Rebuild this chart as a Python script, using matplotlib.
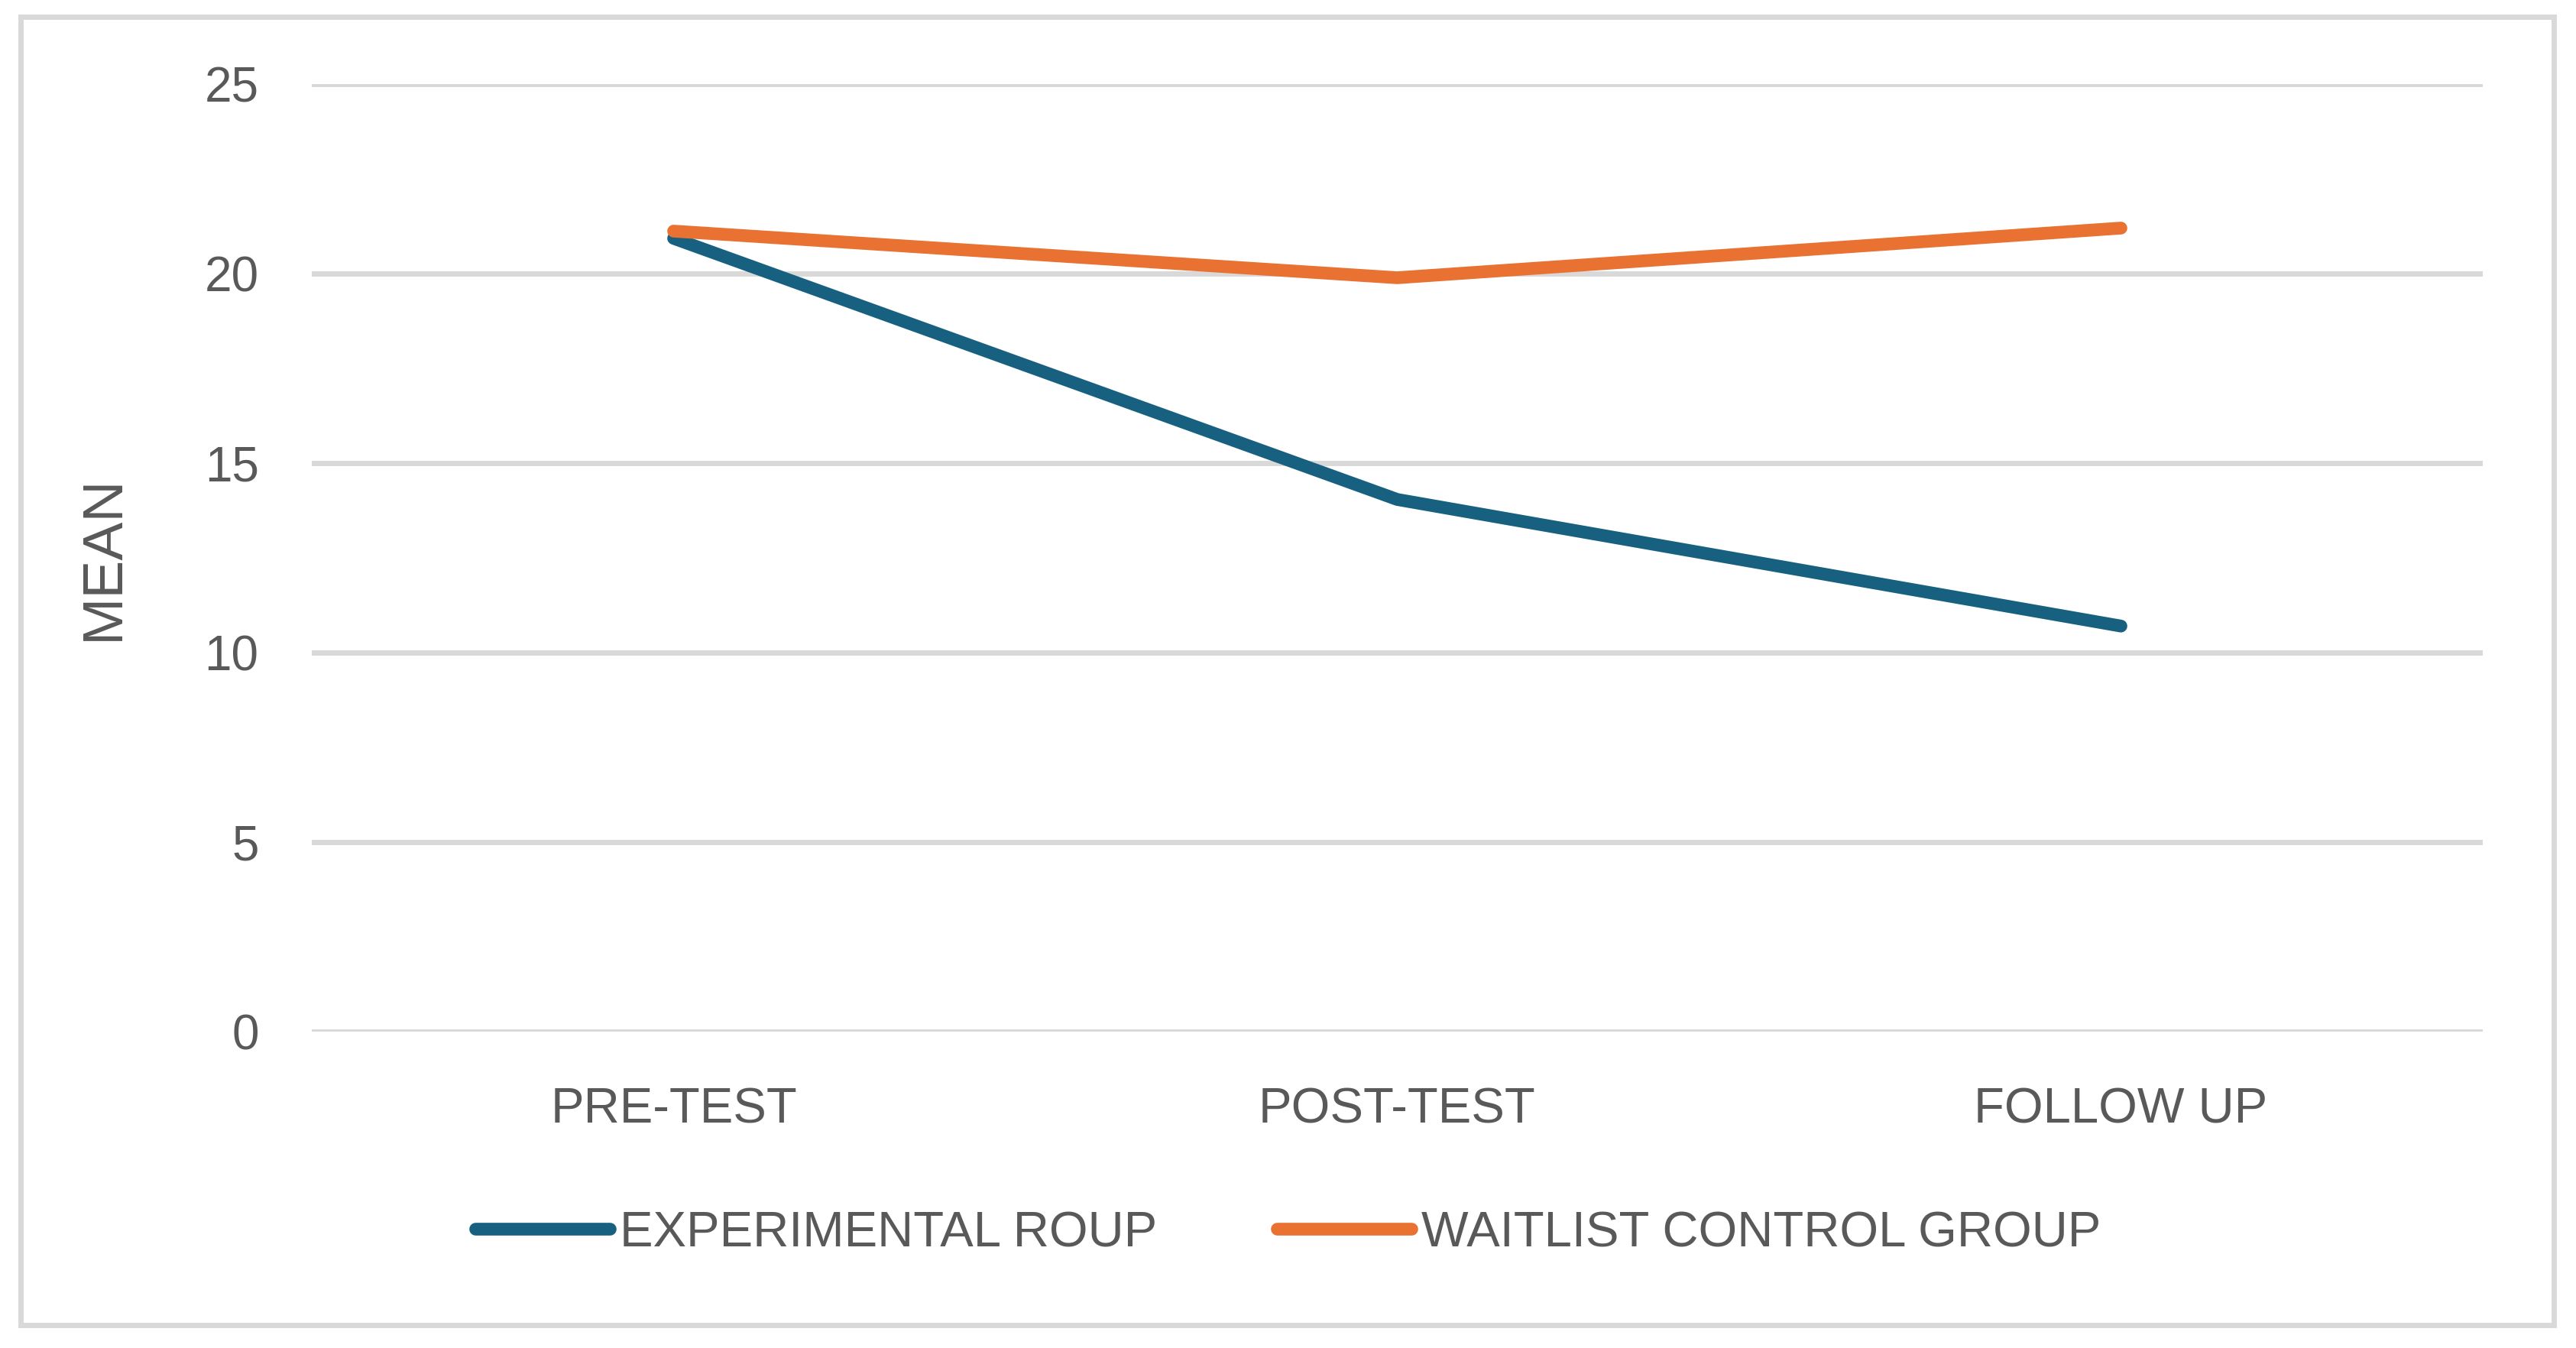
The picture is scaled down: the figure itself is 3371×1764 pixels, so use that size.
import matplotlib.pyplot as plt
from matplotlib.patches import Rectangle

# datos
categorias = ['PRE-TEST', 'POST-TEST', 'FOLLOW UP']
experimental = [20.93, 14.04, 10.70]
waitlist = [21.12, 19.89, 21.20]
nombres = ['EXPERIMENTAL ROUP', 'WAITLIST CONTROL GROUP']

W, H = 3371, 1764
gris = '#595959'
plt.rcParams['font.family'] = ['Liberation Sans', 'DejaVu Sans']

fig = plt.figure(figsize=(W/100, H/100), dpi=100)
ax = fig.add_axes([408/W, 1-1350/H, (3249-408)/W, (1350-110)/H])

x = range(len(categorias))
ax.plot(x, experimental, color='#17607f', lw=12, solid_capstyle='round',
        solid_joinstyle='round', label=nombres[0], zorder=3)
ax.plot(x, waitlist, color='#e97132', lw=12, solid_capstyle='round',
        solid_joinstyle='round', label=nombres[1], zorder=3)

ax.set_xlim(-0.5, 2.5)
ax.set_ylim(0, 25)
ax.set_yticks([0, 5, 10, 15, 20, 25])
ax.set_xticks(list(x))
ax.set_xticklabels(categorias)
ax.grid(axis='y', color='#d9d9d9', lw=5)
ax.set_axisbelow(True)
for s in ax.spines.values():
    s.set_visible(False)
ax.tick_params(length=0, labelsize=46, colors=gris)
ax.tick_params(axis='x', labelsize=47)
ax.tick_params(axis='y', pad=50)
ax.tick_params(axis='x', pad=52)
ax.set_ylabel('MEAN', fontsize=54, color=gris, labelpad=70)

leg = fig.legend(loc='center', bbox_to_anchor=(0.5, 1-1614/H), ncol=2,
                 frameon=False, fontsize=47, handlelength=2.7,
                 handletextpad=0.2, columnspacing=2.4)
for t in leg.get_texts():
    t.set_color(gris)

fig.patches.append(Rectangle((27/W, 1-1734/H), (3342-27)/W, (1734-22)/H,
                             transform=fig.transFigure, fill=False,
                             edgecolor='#d9d9d9', lw=5))

fig.savefig('out.png', dpi=100, facecolor='white')
